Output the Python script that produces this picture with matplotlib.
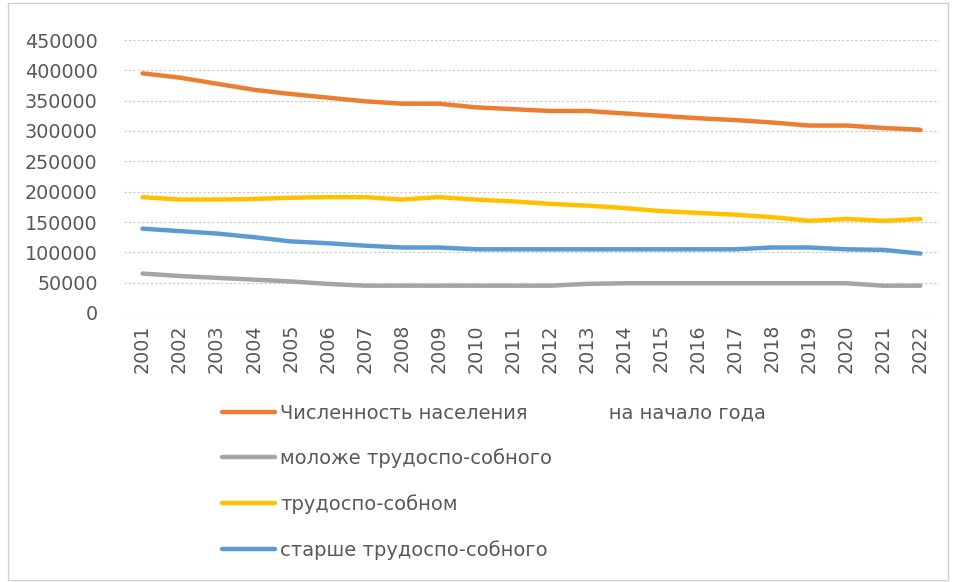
import matplotlib.pyplot as plt
from matplotlib.patches import Rectangle

years = [str(y) for y in range(2001, 2023)]
total = [395000, 388000, 378000, 368000, 361000, 355000, 349000, 345000, 345000, 339000, 336000,
         333000, 333000, 329000, 325000, 321000, 318000, 314000, 309000, 309000, 305000, 302000]
younger = [65000, 61000, 58000, 55000, 52000, 48000, 45000, 45000, 45000, 45000, 45000,
           45000, 48000, 49000, 49000, 49000, 49000, 49000, 49000, 49000, 45000, 45000]
working = [191000, 187000, 187000, 188000, 190000, 191000, 191000, 187000, 191000, 187000, 184000,
           180000, 177000, 173000, 168000, 165000, 162000, 158000, 152000, 155000, 152000, 155000]
older = [139000, 135000, 131000, 125000, 118000, 115000, 111000, 108000, 108000, 105000, 105000,
         105000, 105000, 105000, 105000, 105000, 105000, 108000, 108000, 105000, 104000, 98000]

labels = ['Численность населения             на начало года',
          'моложе трудоспо-собного',
          'трудоспо-собном',
          'старше трудоспо-собного']
colors = ['#ED7D31', '#A5A5A5', '#FFC000', '#5B9BD5']

plt.rcParams['font.family'] = ['DejaVu Sans']
fig = plt.figure(figsize=(9.55, 5.82), dpi=100)
ax = fig.add_axes([124 / 955, 1 - 313 / 582, 815 / 955, 273 / 582])

x = range(len(years))
for series, lab, col in zip([total, younger, working, older], labels, colors):
    ax.plot(x, series, color=col, lw=3.2, label=lab, solid_capstyle='round')

ax.set_xlim(-0.5, len(years) - 0.5)
ax.set_ylim(0, 450000)
ax.set_yticks(range(0, 450001, 50000))
ax.set_yticklabels([str(v) for v in range(0, 450001, 50000)])
ax.set_xticks(list(x))
ax.set_xticklabels(years, rotation=90)
ax.tick_params(length=0, labelsize=13.8, colors='#595959', pad=8)
ax.tick_params(axis='y', pad=19)
ax.grid(axis='y', color='#cfcfcf', lw=0.9, ls=(0, (2, 1.5)))
ax.set_axisbelow(True)
for s in ax.spines.values():
    s.set_visible(False)

fig.legend(loc='upper left', bbox_to_anchor=(204 / 955, 1 - 386 / 582), frameon=False,
           fontsize=14, handlelength=2.75, handletextpad=0.27, labelspacing=1.34,
           labelcolor='#595959')

fig.patches.append(Rectangle((0.008, 0.004), 0.985, 0.99, transform=fig.transFigure,
                             fill=False, ec='#d0d0d0', lw=1))

fig.savefig('out.png', dpi=100)
